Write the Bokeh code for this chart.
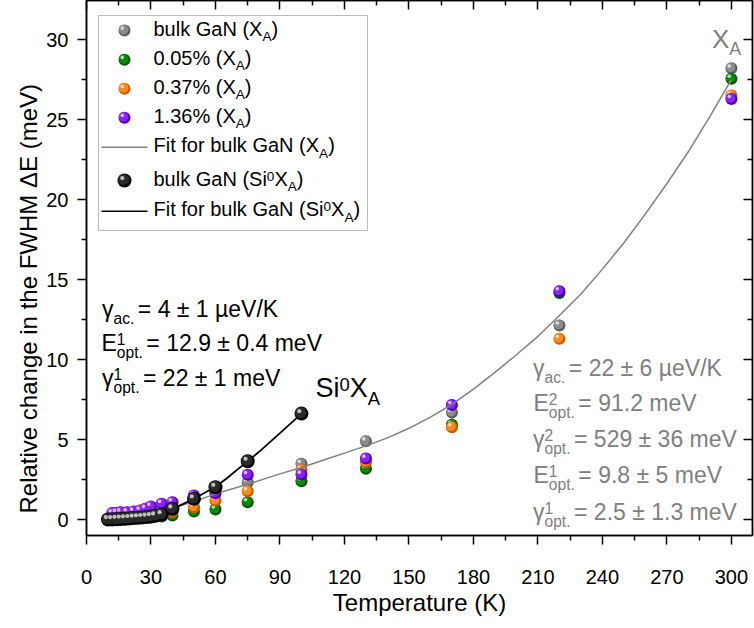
from bokeh.plotting import figure
from bokeh.models import Range1d, LinearAxis, FixedTicker, Label, BoxAnnotation, Title
from bokeh.embed import file_html
from bokeh.resources import INLINE

# ---------------- data ----------------
T_bulk = [10, 12, 14, 16, 18, 20, 22.5, 25, 27.5, 30, 35, 40, 50, 60, 75, 100, 130, 170, 220, 300]
dE_bulk = [0.0, 0.02, 0.04, 0.06, 0.08, 0.1, 0.13, 0.16, 0.2, 0.25, 0.45, 0.7, 1.2, 1.75, 2.33, 3.48, 4.89, 6.68, 12.13, 28.2]

T_005 = [10, 15, 20, 25, 30, 35, 40, 50, 60, 75, 100, 130, 170, 220, 300]
dE_005 = [0.0, 0.02, 0.05, 0.08, 0.12, 0.18, 0.25, 0.5, 0.63, 1.08, 2.39, 3.17, 5.92, 14.15, 27.55]

T_037 = [10, 15, 20, 25, 30, 35, 40, 50, 60, 75, 100, 130, 170, 220, 300]
dE_037 = [0.0, 0.05, 0.1, 0.15, 0.2, 0.3, 0.45, 0.77, 1.19, 1.77, 3.1, 3.58, 5.77, 11.29, 26.5]

T_136 = [12, 14, 16, 19, 22, 25, 27.5, 30, 35, 40, 50, 60, 75, 100, 130, 170, 220, 300]
dE_136 = [0.4, 0.42, 0.45, 0.46, 0.5, 0.56, 0.67, 0.81, 0.98, 1.08, 1.5, 1.64, 2.79, 2.81, 3.81, 7.16, 14.27, 26.29]

T_si = [10, 12, 14, 16, 18, 20, 22, 24, 26, 28, 30, 32, 35, 40, 50, 60, 75, 100]
dE_si = [0.0, 0.0, 0.02, 0.03, 0.05, 0.07, 0.09, 0.11, 0.13, 0.16, 0.19, 0.23, 0.31, 0.67, 1.29, 2.02, 3.64, 6.62]

T_fit_bulk = [10, 20, 30, 40, 50, 60, 75, 90, 100, 110, 120, 130, 140, 150, 160, 170, 180,
              190, 200, 210, 220, 230, 240, 250, 260, 270, 280, 290, 300]
dE_fit_bulk = [0.0, 0.12, 0.38, 0.7, 1.12, 1.6, 2.2, 2.85, 3.25, 3.7, 4.15, 4.6, 5.1, 5.7, 6.4, 7.2, 8.15,
               9.2, 10.3, 11.45, 12.75, 14.1, 15.65, 17.3, 19.1, 21.0, 23.0, 25.2, 27.5]

T_fit_si = [10, 15, 20, 25, 30, 35, 40, 45, 50, 55, 60, 65, 70, 75, 80, 90, 100]
dE_fit_si = [0.0, 0.02, 0.06, 0.14, 0.24, 0.42, 0.67, 0.98, 1.3, 1.67, 2.05, 2.55, 3.1, 3.64, 4.2, 5.4, 6.62]

x_ticks = [0, 30, 60, 90, 120, 150, 180, 210, 240, 270, 300]
x_minor = [15, 45, 75, 105, 135, 165, 195, 225, 255, 285]
y_ticks = [0, 5, 10, 15, 20, 25, 30]
y_minor = [-2.5, 2.5, 7.5, 12.5, 17.5, 22.5, 27.5, 32.5]

# ---------------- layout ----------------
W, H = 754, 628
FL, FR, FT, FB = 86, 752, 0, 535
X0, X1 = 0.0, 309.8
Y0, Y1 = -1.0, 32.44
FONT = "Liberation Sans"
GRAY = "#808080"


def dx(px):
    return X0 + (px - FL) / (FR - FL) * (X1 - X0)


def dy(py):
    return Y1 - (py - FT) / (FB - FT) * (Y1 - Y0)


SX = (X1 - X0) / (FR - FL)
SY = (Y1 - Y0) / (FB - FT)

p = figure(width=W, height=H, x_range=Range1d(X0, X1), y_range=Range1d(Y0, Y1),
           output_backend="svg", toolbar_location=None,
           min_border_left=FL, min_border_right=W - FR, min_border_top=FT, min_border_bottom=H - FB)
p.xgrid.visible = False
p.ygrid.visible = False
p.outline_line_color = "black"
p.outline_line_width = 1.5
p.background_fill_color = "white"
p.border_fill_color = "white"


def style_axis(ax, outward, labels):
    ax.axis_line_width = 1.5
    ax.major_tick_line_width = 1.5
    ax.minor_tick_line_width = 1.5
    if outward:
        ax.major_tick_out, ax.major_tick_in = 9, 0
        ax.minor_tick_out, ax.minor_tick_in = 5, 0
    else:
        ax.major_tick_out, ax.major_tick_in = 0, 9
        ax.minor_tick_out, ax.minor_tick_in = 0, 5
    if labels:
        ax.major_label_text_font = FONT
        ax.major_label_text_font_size = "20px"
        ax.major_label_text_color = "black"
        ax.axis_label_text_font = FONT
        ax.axis_label_text_font_size = "24px"
        ax.axis_label_text_font_style = "normal"
        ax.axis_label_text_color = "black"
    else:
        ax.major_label_text_font_size = "1px"
        ax.major_label_text_color = None
        ax.major_label_text_alpha = 0
        ax.major_label_standoff = 0


xt = FixedTicker(ticks=x_ticks, minor_ticks=x_minor)
yt = FixedTicker(ticks=y_ticks, minor_ticks=y_minor)
p.xaxis.ticker = xt
p.yaxis.ticker = yt
p.xaxis.axis_label = "Temperature (K)"
style_axis(p.xaxis[0], True, True)
style_axis(p.yaxis[0], True, True)
p.xaxis.major_label_standoff = 25
p.xaxis.axis_label_standoff = 2
p.yaxis.major_label_standoff = 9

top = LinearAxis(ticker=FixedTicker(ticks=x_ticks, minor_ticks=x_minor))
right = LinearAxis(ticker=FixedTicker(ticks=y_ticks, minor_ticks=y_minor))
style_axis(top, False, False)
style_axis(right, False, False)
p.add_layout(top, "above")
p.add_layout(right, "right")

# y-axis title, as a side title so it can sit where the reference puts it
p.add_layout(Title(text="Relative change in the FWHM \u0394E (meV)", align="left", offset=22,
                   text_font=FONT, text_font_size="24px", text_font_style="normal",
                   text_color="black", standoff=4), "left")


# ---------------- spherical markers ----------------
def balls(T, v, body, dark, size):
    p.scatter(T, v, size=size, fill_color=dark, line_color=None)
    p.scatter([t - 0.9 * SX for t in T], [y + 0.9 * SY for y in v], size=size * 0.8,
              fill_color=body, line_color=None)
    p.scatter([t - 2.2 * SX for t in T], [y + 2.4 * SY for y in v], size=size * 0.3,
              fill_color="white", fill_alpha=0.7, line_color=None)


STY = {
    "bulk": ("#8c8c8c", "#5e5e5e", 12),
    "005": ("#0b8a0b", "#005a00", 12),
    "037": ("#ff8a1c", "#c85a00", 12),
    "136": ("#8a22ff", "#5000b4", 12),
    "si": ("#2a2a2a", "#000000", 14),
}

balls(T_bulk, dE_bulk, *STY["bulk"])
balls(T_005, dE_005, *STY["005"])
balls(T_037, dE_037, *STY["037"])
balls(T_136, dE_136, *STY["136"])
p.line(T_fit_bulk, dE_fit_bulk, line_color=GRAY, line_width=1.5)
p.line(T_fit_si, dE_fit_si, line_color="black", line_width=1.8)
balls(T_si, dE_si, *STY["si"])

# ---------------- rich text helper ----------------
WID = {' ': 278, '.': 278, ',': 278, '%': 889, '(': 333, ')': 333, '=': 584, '\u00b1': 549,
       '\u00b5': 576, '/': 278, '\u03b3': 500, '\u0394': 668,
       'a': 556, 'b': 556, 'c': 500, 'd': 556, 'e': 556, 'f': 278, 'g': 556, 'h': 556, 'i': 222,
       'k': 500, 'l': 222, 'm': 833, 'n': 556, 'o': 556, 'p': 556, 'r': 333, 's': 500, 't': 278,
       'u': 556, 'v': 500, 'A': 667, 'E': 667, 'F': 611, 'G': 778, 'K': 667, 'N': 722, 'S': 667,
       'V': 667, 'X': 667}


def tw(s, size):
    return sum(WID.get(c, 556) for c in s) * size / 1000.0


def put(text, px, py, size, color):
    corr = 0.37 * size + 1.5
    p.add_layout(Label(x=dx(px), y=dy(py - corr), text=text, text_font=FONT,
                       text_font_size=f"{size}px", text_color=color,
                       text_baseline="alphabetic", text_align="left"))


def rich(parts, x, base, S, color, small=0.68, rise=0.24, drop=0.27, pad=3.5):
    s = round(S * small, 1)
    for part in parts:
        kind = part[0]
        if kind == "n":
            put(part[1], x, base, S, color)
            x += tw(part[1], S)
        elif kind == "sub":
            put(part[1], x, base + drop * S, s, color)
            x += tw(part[1], s) + pad
        elif kind == "sup":
            put(part[1], x, base - rise * S, s, color)
            x += tw(part[1], s) + pad
        elif kind == "ss":
            put(part[1], x, base - rise * S - 2, s, color)
            put(part[2], x, base + drop * S, s, color)
            x += max(tw(part[1], s), tw(part[2], s)) + pad


# ---------------- legend ----------------
p.add_layout(BoxAnnotation(left=dx(98), right=dx(367), top=dy(15), bottom=dy(230),
                           fill_color="white", fill_alpha=1.0, line_color="#222222",
                           line_width=1, level="underlay"))
rows = [30, 59.3, 88.3, 117.3, 146.7, 180, 210.7]
LS = 20
balls([dx(124)], [dy(rows[0])], *STY["bulk"])
balls([dx(124)], [dy(rows[1])], *STY["005"])
balls([dx(124)], [dy(rows[2])], *STY["037"])
balls([dx(124)], [dy(rows[3])], *STY["136"])
p.line([dx(101), dx(147)], [dy(rows[4]), dy(rows[4])], line_color=GRAY, line_width=1.5)
balls([dx(124)], [dy(rows[5])], *STY["si"])
p.line([dx(101), dx(147)], [dy(rows[6]), dy(rows[6])], line_color="black", line_width=1.5)

LX = 153
off = 7
rich([("n", "bulk GaN (X"), ("sub", "A"), ("n", ")")], LX, rows[0] + off, LS, "black", pad=0)
rich([("n", "0.05% (X"), ("sub", "A"), ("n", ")")], LX, rows[1] + off, LS, "black", pad=0)
rich([("n", "0.37% (X"), ("sub", "A"), ("n", ")")], LX, rows[2] + off, LS, "black", pad=0)
rich([("n", "1.36% (X"), ("sub", "A"), ("n", ")")], LX, rows[3] + off, LS, "black", pad=0)
rich([("n", "Fit for bulk GaN (X"), ("sub", "A"), ("n", ")")], LX, rows[4] + off, LS, "black", pad=0)
rich([("n", "bulk GaN (Si"), ("sup", "0"), ("n", "X"), ("sub", "A"), ("n", ")")], LX, rows[5] + off, LS, "black", pad=0)
rich([("n", "Fit for bulk GaN (Si"), ("sup", "0"), ("n", "X"), ("sub", "A"), ("n", ")")], LX, rows[6] + off, LS, "black", pad=0)

# ---------------- annotations ----------------
AS = 23
rich([("n", "\u03b3"), ("sub", "ac."), ("n", " = 4 \u00b1 1 \u00b5eV/K")], 101.5, 319, AS, "black")
rich([("n", "E"), ("ss", "1", "opt."), ("n", " = 12.9 \u00b1 0.4 meV")], 101, 353, AS, "black")
rich([("n", "\u03b3"), ("ss", "1", "opt."), ("n", " = 22 \u00b1 1 meV")], 101.5, 388, AS, "black")

rich([("n", "Si"), ("sup", "0"), ("n", "X"), ("sub", "A")], 315, 399, 27, "black", pad=0)

GS = 23
rich([("n", "\u03b3"), ("sub", "ac."), ("n", " = 22 \u00b1 6 \u00b5eV/K")], 532.5, 378, GS, GRAY)
rich([("n", "E"), ("ss", "2", "opt."), ("n", " = 91.2 meV")], 533, 413, GS, GRAY)
rich([("n", "\u03b3"), ("ss", "2", "opt."), ("n", " = 529 \u00b1 36 meV")], 532.5, 449, GS, GRAY)
rich([("n", "E"), ("ss", "1", "opt."), ("n", " = 9.8 \u00b1 5 meV")], 533, 485, GS, GRAY)
rich([("n", "\u03b3"), ("ss", "1", "opt."), ("n", " = 2.5 \u00b1 1.3 meV")], 532.5, 522, GS, GRAY)

rich([("n", "X"), ("sub", "A")], 711.5, 50, 26, GRAY, pad=0)

open("out.html", "w").write(file_html(p, INLINE))
